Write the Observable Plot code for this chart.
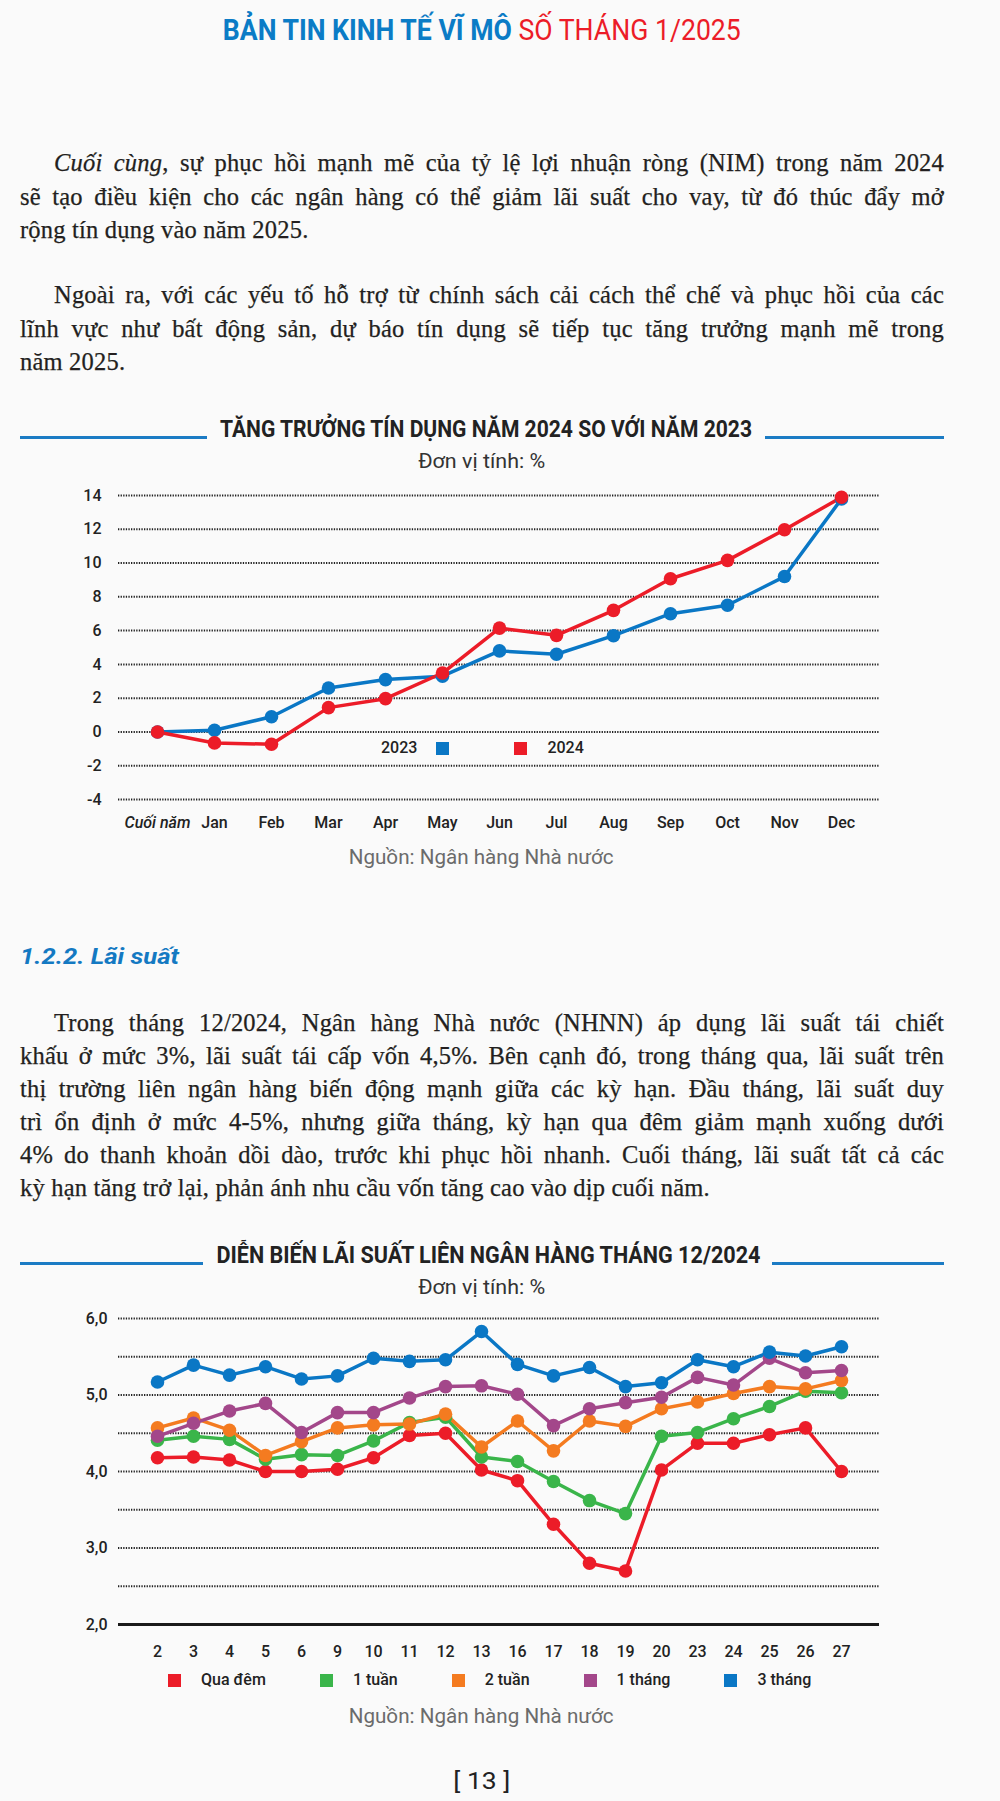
<!DOCTYPE html>
<html><head><meta charset="utf-8">
<script src="https://cdn.jsdelivr.net/npm/d3@7"></script>
<script src="https://cdn.jsdelivr.net/npm/@observablehq/plot@0.6"></script>
<style>
html,body{margin:0;padding:0;background:#fafafa;}
#page{position:relative;width:1000px;height:1801px;overflow:hidden;font-family:Roboto,sans-serif;color:#222;}
.abs{position:absolute;}
.fitbox{text-align:center;white-space:nowrap;}
.fit{display:inline-block;white-space:nowrap;transform-origin:50% 50%;}
.header{font-size:30px;height:40px;line-height:40px;}
.header .b{color:#0b7cc6;font-weight:bold;}
.header .r{color:#ec1c28;font-weight:normal;}
.body{left:20px;width:924px;font-family:"Liberation Serif",serif;font-size:24.5px;line-height:33.5px;color:#231f20;letter-spacing:0.2px;-webkit-text-stroke:0.25px #231f20;}
.body .l{text-align:justify;text-align-last:justify;white-space:normal;}
.body .l.first{text-indent:34px;}
.body .l.last{text-align-last:left;}
.tline{height:3px;background:#1b7bc4;}
.ctitle{font-size:24px;font-weight:bold;line-height:30px;color:#222;}
.unit{font-size:19.5px;line-height:24px;color:#333;}
.src{font-size:19.5px;line-height:24px;color:#6b6b6b;}
.sec{font-size:22px;font-weight:bold;font-style:italic;color:#1479c2;line-height:30px;text-align:left;}
.sec .fit{transform-origin:0 50%;}
.legend{display:flex;align-items:center;font-size:16px;font-weight:500;color:#222;line-height:20px;white-space:nowrap;}
.legend .sw{width:13px;height:13px;display:inline-block;}
.pnum{font-size:24px;line-height:30px;color:#222;}
</style></head>
<body><div id="page">
<div class="abs fitbox header" style="left:0;width:964px;top:10px" data-w="518"><span class="fit"><span class="b">BẢN TIN KINH TẾ VĨ MÔ</span> <span class="r">SỐ THÁNG 1/2025</span></span></div>

<div class="abs body" style="top:146px">
<div class="l first"><i>Cuối cùng</i>, sự phục hồi mạnh mẽ của tỷ lệ lợi nhuận ròng (NIM) trong năm 2024</div>
<div class="l">sẽ tạo điều kiện cho các ngân hàng có thể giảm lãi suất cho vay, từ đó thúc đẩy mở</div>
<div class="l last">rộng tín dụng vào năm 2025.</div>
</div>
<div class="abs body" style="top:278px">
<div class="l first">Ngoài ra, với các yếu tố hỗ trợ từ chính sách cải cách thể chế và phục hồi của các</div>
<div class="l">lĩnh vực như bất động sản, dự báo tín dụng sẽ tiếp tục tăng trưởng mạnh mẽ trong</div>
<div class="l last">năm 2025.</div>
</div>

<div class="abs tline" style="left:20px;width:187px;top:435.5px"></div>
<div class="abs tline" style="left:765px;width:179px;top:435.5px"></div>
<div class="abs fitbox ctitle" style="left:0;width:972px;top:414px" data-w="532"><span class="fit">TĂNG TRƯỞNG TÍN DỤNG NĂM 2024 SO VỚI NĂM 2023</span></div>
<div class="abs fitbox unit" style="left:0;width:963px;top:450px" data-w="127"><span class="fit">Đơn vị tính: %</span></div>
<div id="chart1" class="abs" style="left:0;top:470px"></div>
<div id="legend1" class="abs legend" style="left:381px;top:738px"></div>
<div class="abs fitbox src" style="left:0;width:963px;top:846px" data-w="265"><span class="fit">Nguồn: Ngân hàng Nhà nước</span></div>

<div class="abs fitbox sec" style="left:20px;width:300px;top:942px" data-w="159"><span class="fit">1.2.2. Lãi suất</span></div>

<div class="abs body" style="top:1006px;line-height:33px">
<div class="l first">Trong tháng 12/2024, Ngân hàng Nhà nước (NHNN) áp dụng lãi suất tái chiết</div>
<div class="l">khấu ở mức 3%, lãi suất tái cấp vốn 4,5%. Bên cạnh đó, trong tháng qua, lãi suất trên</div>
<div class="l">thị trường liên ngân hàng biến động mạnh giữa các kỳ hạn. Đầu tháng, lãi suất duy</div>
<div class="l">trì ổn định ở mức 4-5%, nhưng giữa tháng, kỳ hạn qua đêm giảm mạnh xuống dưới</div>
<div class="l">4% do thanh khoản dồi dào, trước khi phục hồi nhanh. Cuối tháng, lãi suất tất cả các</div>
<div class="l last">kỳ hạn tăng trở lại, phản ánh nhu cầu vốn tăng cao vào dịp cuối năm.</div>
</div>

<div class="abs tline" style="left:20px;width:183px;top:1261.5px"></div>
<div class="abs tline" style="left:772px;width:172px;top:1261.5px"></div>
<div class="abs fitbox ctitle" style="left:0;width:976px;top:1240px" data-w="544"><span class="fit">DIỄN BIẾN LÃI SUẤT LIÊN NGÂN HÀNG THÁNG 12/2024</span></div>
<div class="abs fitbox unit" style="left:0;width:963px;top:1276px" data-w="127"><span class="fit">Đơn vị tính: %</span></div>
<div id="chart2" class="abs" style="left:0;top:1298px"></div>
<div id="legend2" class="abs legend" style="left:168px;top:1670px"></div>
<div class="abs fitbox src" style="left:0;width:963px;top:1705px" data-w="265"><span class="fit">Nguồn: Ngân hàng Nhà nước</span></div>
<div class="abs fitbox pnum" style="left:0;width:963px;top:1766px" data-w="57"><span class="fit">[ 13 ]</span></div>
</div>
<script>
// ---------- Chart 1 data ----------
const months = ["Cuối năm","Jan","Feb","Mar","Apr","May","Jun","Jul","Aug","Sep","Oct","Nov","Dec"];
const series1 = ["2023","2024"];
const colors1 = ["#0a77c5","#ec1c28"];
const credit2023 = [0, 0.1, 0.9, 2.6, 3.1, 3.3, 4.8, 4.6, 5.7, 7.0, 7.5, 9.2, 13.8];
const credit2024 = [0, -0.65, -0.73, 1.44, 1.97, 3.49, 6.15, 5.72, 7.2, 9.07, 10.16, 11.97, 13.9];
const yTicks1 = [-4, -2, 0, 2, 4, 6, 8, 10, 12, 14];

// ---------- Chart 2 data ----------
const days = ["2","3","4","5","6","9","10","11","12","13","16","17","18","19","20","23","24","25","26","27"];
const series2 = ["Qua đêm","1 tuần","2 tuần","1 tháng","3 tháng"];
const colors2 = ["#ec1c28","#3ab54a","#f47b20","#a3478a","#0a77c5"];
const overnight = [4.18,4.19,4.15,4.00,4.00,4.03,4.18,4.47,4.50,4.02,3.88,3.31,2.80,2.70,4.02,4.37,4.37,4.48,4.57,4.00];
const week1 =     [4.41,4.46,4.42,4.16,4.22,4.21,4.40,4.64,4.71,4.19,4.13,3.87,3.62,3.45,4.46,4.51,4.69,4.85,5.05,5.03];
const week2 =     [4.57,4.70,4.54,4.21,4.39,4.57,4.61,4.62,4.75,4.32,4.66,4.27,4.66,4.59,4.82,4.91,5.02,5.11,5.08,5.19];
const month1 =    [4.46,4.63,4.79,4.89,4.51,4.77,4.77,4.96,5.11,5.12,5.01,4.60,4.82,4.90,4.97,5.23,5.13,5.48,5.29,5.32];
const month3 =    [5.17,5.39,5.26,5.37,5.21,5.25,5.48,5.44,5.46,5.83,5.40,5.25,5.36,5.11,5.16,5.46,5.37,5.56,5.51,5.63];
const yTicks2 = [2, 3, 4, 5, 6];
const gridLines2 = [2.5, 3, 3.5, 4, 4.5, 5, 5.5, 6];

const font = {background:"transparent", fontFamily:"Roboto, sans-serif", fontSize:"16px", fontWeight:"500", color:"#222", overflow:"visible"};

// ---------- Chart 1 ----------
const data1 = months.flatMap((m, i) => [
  {month: m, series: series1[0], value: credit2023[i]},
  {month: m, series: series1[1], value: credit2024[i]}
]);
const c1 = Plot.plot({
  width: 1000, height: 370,
  marginLeft: 118, marginRight: 121, marginTop: 25, marginBottom: 41,
  style: font,
  x: {type: "point", domain: months, padding: 0.58, label: null},
  y: {domain: [-4, 14], label: null},
  color: {domain: series1, range: colors1},
  marks: [
    Plot.ruleY(yTicks1, {stroke: "#222", strokeWidth: 2, strokeDasharray: "1.3,1.3"}),
    Plot.axisY(yTicks1, {tickSize: 0, tickPadding: 17, tickFormat: d => String(d), label: null}),
    Plot.axisX({tickSize: 0, tickPadding: 17, label: null}),
    Plot.line(data1, {x: "month", y: "value", z: "series", stroke: "series", strokeWidth: 3.5}),
    Plot.dot(data1, {x: "month", y: "value", fill: "series", r: 6.8})
  ]
});
d3.select(c1).selectAll('[aria-label="x-axis tick label"] text')
  .filter(function(){ return this.textContent === months[0]; })
  .attr("font-style", "italic");
document.getElementById("chart1").appendChild(c1);

const lg1 = document.getElementById("legend1");
lg1.innerHTML = `<span>${series1[0]}</span><span class="sw" style="background:${colors1[0]};margin-left:19px"></span>` +
  `<span class="sw" style="background:${colors1[1]};margin-left:65px"></span><span style="margin-left:20px">${series1[1]}</span>`;

// ---------- Chart 2 ----------
const vals2 = [overnight, week1, week2, month1, month3];
const data2 = series2.flatMap((s, k) => days.map((d, i) => ({day: d, series: s, value: vals2[k][i]})));
const c2 = Plot.plot({
  width: 1000, height: 366,
  marginLeft: 118, marginRight: 121, marginTop: 20, marginBottom: 40,
  style: font,
  x: {type: "point", domain: days, padding: 0.92, label: null},
  y: {domain: [2, 6], label: null},
  color: {domain: series2, range: colors2},
  marks: [
    Plot.ruleY(gridLines2, {stroke: "#222", strokeWidth: 2, strokeDasharray: "1.3,1.3"}),
    Plot.ruleY([yTicks2[0]], {stroke: "#1a1a1a", strokeWidth: 3}),
    Plot.axisY(yTicks2, {tickSize: 0, tickPadding: 11, tickFormat: d => d.toFixed(1).replace(".", ","), label: null}),
    Plot.axisX({tickSize: 0, tickPadding: 21, label: null}),
    Plot.line(data2, {x: "day", y: "value", z: "series", stroke: "series", strokeWidth: 3.5}),
    Plot.dot(data2, {x: "day", y: "value", fill: "series", r: 6.8})
  ]
});
document.getElementById("chart2").appendChild(c2);

const lg2 = document.getElementById("legend2");
lg2.innerHTML = series2.map((s, k) =>
  `<span style="display:inline-flex;align-items:center;margin-right:${k < series2.length - 1 ? 54 : 0}px">` +
  `<span class="sw" style="background:${colors2[k]}"></span><span style="margin-left:20px">${s}</span></span>`).join("");

// fit condensed-looking headings to their measured widths
function fitAll(){
  document.querySelectorAll(".fitbox").forEach(box => {
    const el = box.querySelector(".fit");
    el.style.transform = "none";
    const w = el.getBoundingClientRect().width;
    const target = +box.dataset.w;
    if (w > 0) el.style.transform = `scaleX(${target / w})`;
  });
}
fitAll();
if (document.fonts && document.fonts.ready) document.fonts.ready.then(fitAll);
</script>
</body></html>
